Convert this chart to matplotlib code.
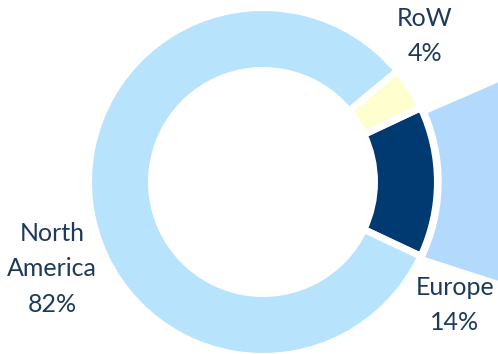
import matplotlib
matplotlib.use("Agg")
import matplotlib.pyplot as plt
from matplotlib.patches import Circle, Polygon

# revenue split by region
regions = ["Europe", "RoW", "North America"]
shares = [14, 4, 82]
labels = ["Europe\n14%", "RoW\n4%", "North\nAmerica\n82%"]
colors = ["#003a70", "#fefece", "#b8e3fd"]
text_color = "#1d3a5a"

px = 171.0  # pixels per unit radius
cx, cy = 263, 182  # donut center in pixels

fig = plt.figure(figsize=(4.98, 3.54), dpi=100)
ax = fig.add_axes([0, 0, 1, 1])

# connector shape going right from the Europe slice
ax.add_patch(Polygon([(0.8, 0.33), (0.965, 0.404), (1.6, 0.68),
                      (1.6, -0.65), (0.947, -0.439), (0.8, -0.37)],
                     closed=True, facecolor="#b3d9fc", edgecolor="none", zorder=1))
ax.add_patch(Circle((0, 0), 1.045, facecolor="white", edgecolor="none", zorder=2))

start = -shares[0] / 100 * 360 / 2
wedges, _ = ax.pie(shares, colors=colors, startangle=start, counterclock=True,
                   radius=1.02, wedgeprops=dict(width=0.368, edgecolor="white", linewidth=5))
for w in wedges:
    w.set_zorder(3)

def to_data(x, y):
    return (x - cx) / px, (cy - y) / px

label_pos = [(455, 305), (425, 36), (52, 269)]
for lab, (x, y) in zip(labels, label_pos):
    dx, dy = to_data(x, y)
    ax.text(dx, dy, lab, ha="center", va="center", fontsize=18, color=text_color,
            family="Lato", linespacing=1.65, zorder=4)

ax.set_xlim(-cx / px, (498 - cx) / px)
ax.set_ylim(-(354 - cy) / px, cy / px)
ax.set_aspect("auto")
ax.axis("off")

fig.savefig("out.png", dpi=100)
